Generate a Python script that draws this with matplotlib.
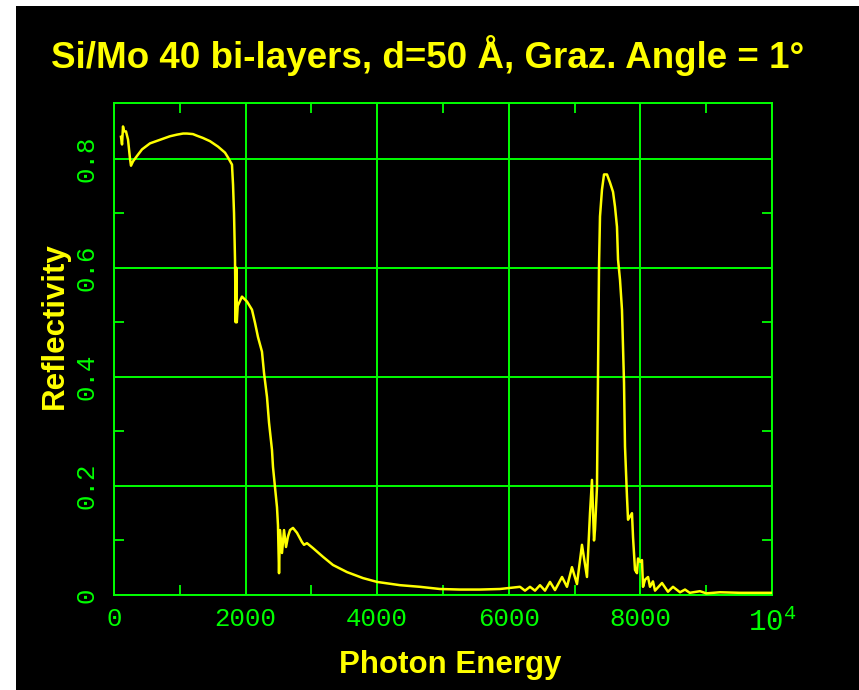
import matplotlib
matplotlib.use("Agg")
import matplotlib.pyplot as plt
from matplotlib.patches import Rectangle
from matplotlib.ticker import FixedLocator, FixedFormatter

# photon energy (eV) and reflectivity
energy = [106, 122, 137, 152, 182, 213, 243, 258, 289, 350, 426, 547, 640, 729,
          850, 957, 1050, 1109, 1200, 1261, 1350, 1459, 1581, 1687, 1733, 1793,
          1809, 1824, 1839, 1849, 1858,
          1866, 1880, 1945, 2021, 2097, 2143, 2188, 2249, 2280, 2325, 2356, 2401,
          2416, 2447, 2477, 2492, 2508, 2523, 2553, 2584, 2614, 2644, 2675, 2720,
          2781, 2857, 2888, 2933, 3024, 3176, 3328, 3541, 3784, 3997, 4347, 4650,
          4954, 5258, 5562, 5866, 6018, 6170, 6246, 6322, 6398, 6474, 6550, 6626,
          6702, 6809, 6884, 6960, 7036, 7112, 7188, 7234, 7264, 7295, 7310, 7340,
          7356, 7371, 7386, 7416, 7447, 7492, 7538, 7584, 7614, 7644, 7660, 7690,
          7720, 7736, 7751, 7766, 7796, 7812, 7872, 7888, 7918, 7948, 7964, 7994,
          8024, 8040, 8070, 8116, 8146, 8191, 8222, 8328, 8419, 8495, 8602, 8678,
          8750, 8906, 9000, 9210, 9514, 10000]
reflectivity = [0.840, 0.826, 0.859, 0.850, 0.850, 0.835, 0.800, 0.787, 0.795,
                0.805, 0.817, 0.828, 0.832, 0.836, 0.841, 0.844, 0.846, 0.846,
                0.845, 0.842, 0.838, 0.832, 0.822,
                0.811, 0.802, 0.789, 0.752, 0.700, 0.615, 0.500, 0.600, 0.500,
                0.530, 0.547, 0.538, 0.523, 0.499, 0.473, 0.446, 0.407, 0.363,
                0.316, 0.266, 0.235, 0.198, 0.161, 0.128, 0.040, 0.119, 0.077,
                0.119, 0.088, 0.107, 0.119, 0.123, 0.114, 0.097, 0.092, 0.095,
                0.086, 0.070, 0.055, 0.042, 0.031, 0.024, 0.018, 0.015, 0.011,
                0.010, 0.010, 0.011, 0.013, 0.015, 0.008, 0.015, 0.008, 0.018,
                0.008, 0.024, 0.009, 0.033, 0.015, 0.051, 0.020, 0.092, 0.033,
                0.150, 0.211, 0.100, 0.120, 0.198, 0.413, 0.602, 0.694, 0.743,
                0.771, 0.771, 0.756, 0.739, 0.712, 0.675, 0.615, 0.578, 0.523,
                0.455, 0.389, 0.272, 0.180, 0.138, 0.150, 0.106, 0.046, 0.040,
                0.067, 0.061, 0.064, 0.015, 0.028, 0.033, 0.015, 0.025, 0.008,
                0.022, 0.006, 0.015, 0.005, 0.010, 0.004, 0.007, 0.003, 0.005,
                0.004, 0.004]

x_ticks = [0, 2000, 4000, 6000, 8000, 10000]
x_labels = ["0", "2000", "4000", "6000", "8000", r"$\mathregular{10^4}$"]
y_ticks = [0, 0.2, 0.4, 0.6, 0.8]
y_labels = ["0", "0.2", "0.4", "0.6", "0.8"]

YELLOW = "#ffff00"
GREEN = "#00ff00"

plt.rcParams["mathtext.fontset"] = "custom"
plt.rcParams["mathtext.rm"] = "Liberation Serif"

fig = plt.figure(figsize=(8.59, 6.90), dpi=100, facecolor="white")
# white strip on top and left, as in the original screenshot
fig.patches.append(Rectangle((16 / 859, 0), 1, 1 - 6 / 690, transform=fig.transFigure,
                             facecolor="black", edgecolor="none", zorder=-10))

ax = fig.add_axes([114 / 859, 1 - 595 / 690, 658 / 859, 492 / 690])
ax.set_facecolor("black")
ax.plot(energy, reflectivity, color=YELLOW, lw=1.8, zorder=3)

ax.set_xlim(0, 10000)
ax.set_ylim(0, 0.902)

ax.xaxis.set_major_locator(FixedLocator(x_ticks))
ax.xaxis.set_major_formatter(FixedFormatter(x_labels))
ax.yaxis.set_major_locator(FixedLocator(y_ticks))
ax.yaxis.set_major_formatter(FixedFormatter(y_labels))
ax.xaxis.set_minor_locator(FixedLocator([1000, 3000, 5000, 7000, 9000]))
ax.yaxis.set_minor_locator(FixedLocator([0.1, 0.3, 0.5, 0.7]))

ax.grid(True, which="major", color=GREEN, lw=1.4)
ax.tick_params(which="both", direction="in", color=GREEN, width=1.3,
               top=True, right=True, labelcolor=GREEN)
ax.tick_params(which="major", length=0)
ax.tick_params(which="minor", length=7)
ax.tick_params(axis="x", pad=9)
ax.tick_params(axis="y", pad=11)
for lab in ax.get_xticklabels():
    lab.set_fontfamily("Liberation Mono")
    lab.set_fontsize(18.5)
ax.get_xticklabels()[-1].set_fontsize(21)
for lab in ax.get_yticklabels():
    lab.set_fontfamily("Liberation Mono")
    lab.set_fontsize(18.5)
    lab.set_rotation(90)
    lab.set_va("center")
for sp in ax.spines.values():
    sp.set_color(GREEN)
    sp.set_linewidth(1.4)

fig.text(428 / 859, 1 - 55 / 690, "Si/Mo 40 bi-layers, d=50 Å, Graz. Angle = 1°",
         color=YELLOW, fontsize=26.5, fontweight="bold", family="Liberation Sans",
         ha="center", va="center")
fig.text(55 / 859, 1 - 326 / 690, "Reflectivity", color=YELLOW, fontsize=22.5,
         fontweight="bold", family="Liberation Sans", rotation=90,
         ha="center", va="center")
fig.text(450 / 859, 1 - 665 / 690, "Photon Energy", color=YELLOW, fontsize=22.5,
         fontweight="bold", family="Liberation Sans", ha="center", va="center")

fig.savefig("out.png", dpi=100, facecolor=fig.get_facecolor())
